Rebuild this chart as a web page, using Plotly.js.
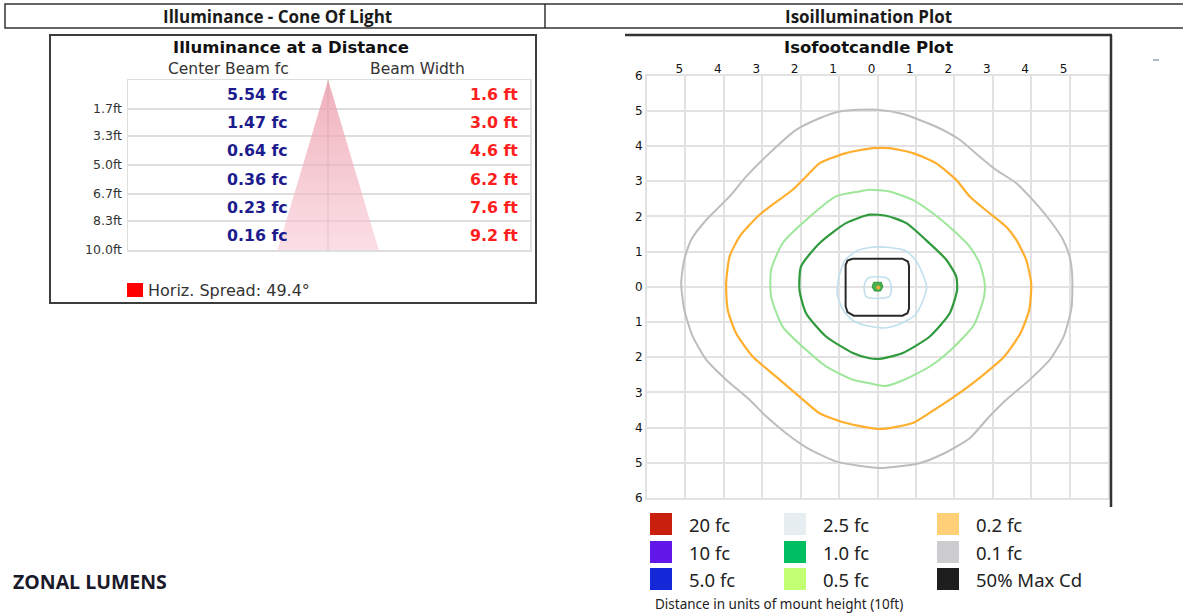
<!DOCTYPE html>
<html>
<head>
<meta charset="utf-8">
<script src="https://cdn.plot.ly/plotly-3.0.1.min.js"></script>
<style>html,body{margin:0;padding:0;background:#fff}#chart{width:1183px;height:613px}</style>
</head>
<body>
<div id="chart"></div>
<script>
// ---------------- DATA ----------------
// Illuminance at a distance table
const distanceLabels = ['1.7ft', '3.3ft', '5.0ft', '6.7ft', '8.3ft', '10.0ft'];
const distances = [1.7, 3.3, 5.0, 6.7, 8.3, 10.0];
const centerBeamFc = [5.54, 1.47, 0.64, 0.36, 0.23, 0.16];
const beamWidthFt = [1.6, 3.0, 4.6, 6.2, 7.6, 9.2];
const horizSpreadDeg = 49.4;

// Isofootcandle contours (units of mount height)
const gray01X = [-0.47, 0, 0.66, 1.53, 2.14, 2.66, 3.09, 3.61, 4.04, 4.48, 4.83, 5.0, 5.07, 5.05, 4.85, 4.5, 3.95, 3.35, 2.9, 2.4, 1.7, 1.09, 0.05, -1.08, -1.8, -2.38, -2.9, -3.33, -3.94, -4.46, -4.81, -5.03, -5.11, -5.03, -4.85, -4.46, -3.85, -3.42, -2.81, -2.12, -1.51, -0.99, -0.47];
const gray01Y = [5.03, 5.03, 4.91, 4.55, 4.18, 3.7, 3.32, 2.95, 2.47, 1.9, 1.34, 0.86, 0.29, -0.6, -1.4, -2.05, -2.65, -3.21, -3.7, -4.3, -4.75, -5.01, -5.15, -4.96, -4.6, -4.16, -3.68, -3.21, -2.64, -2.07, -1.41, -0.65, 0.1, 0.77, 1.34, 1.9, 2.57, 3.13, 3.8, 4.46, 4.79, 4.98, 5.03];
const orange02X = [-0.12, 0.31, 0.92, 1.53, 2.05, 2.4, 2.92, 3.35, 3.61, 3.87, 4.0, 3.95, 3.72, 3.3, 2.7, 1.96, 1.4, 0.92, 0.05, -0.82, -1.51, -2.03, -2.64, -3.25, -3.68, -3.9, -3.94, -3.85, -3.59, -3.07, -2.21, -1.8, -1.51, -0.82, -0.12];
const orange02Y = [3.94, 3.94, 3.8, 3.51, 3.04, 2.57, 2.09, 1.71, 1.34, 0.77, 0.1, -0.65, -1.32, -1.98, -2.55, -3.15, -3.55, -3.87, -4.04, -3.87, -3.59, -3.12, -2.55, -1.98, -1.32, -0.65, 0.1, 0.86, 1.43, 2.05, 2.76, 3.2, 3.51, 3.8, 3.94];
const green05X = [-0.2, 0.31, 0.92, 1.44, 1.96, 2.4, 2.66, 2.79, 2.77, 2.5, 1.9, 1.35, 0.65, 0.2, -0.21, -0.64, -1.34, -1.86, -2.47, -2.77, -2.77, -2.47, -1.86, -1.08, -0.47, -0.2];
const green05Y = [2.76, 2.71, 2.47, 2.09, 1.62, 1.14, 0.67, 0.1, -0.3, -1.1, -1.8, -2.27, -2.66, -2.82, -2.74, -2.64, -2.26, -1.79, -1.13, -0.27, 0.48, 1.24, 1.9, 2.57, 2.71, 2.76];
const green10X = [-0.21, 0.23, 0.75, 1.35, 1.79, 2.05, 2.07, 1.88, 1.36, 0.66, 0.1, -0.21, -0.64, -1.34, -1.86, -2.03, -1.99, -1.51, -0.82, -0.21];
const green10Y = [2.05, 2.02, 1.81, 1.24, 0.77, 0.29, -0.1, -0.75, -1.41, -1.88, -2.04, -2.03, -1.88, -1.41, -0.75, -0.09, 0.58, 1.24, 1.81, 2.05];
const blue25X = [-0.2, 0.3, 0.75, 1.0, 1.18, 1.28, 1.18, 0.98, 0.6, 0.2, -0.3, -0.65, -0.9, -1.05, -1.0, -0.85, -0.55, -0.2];
const blue25Y = [1.12, 1.12, 1.02, 0.75, 0.35, 0.0, -0.4, -0.8, -1.05, -1.17, -1.1, -0.95, -0.65, -0.2, 0.3, 0.75, 1.02, 1.12];
const blueInnerX = [-0.2, 0.2, 0.33, 0.36, 0.3, 0.0, -0.3, -0.35, -0.3, -0.2];
const blueInnerY = [0.27, 0.27, 0.15, -0.1, -0.28, -0.33, -0.28, 0.0, 0.18, 0.27];
const maxCd50X = [-0.65, 0.65, 0.79, 0.82, 0.82, 0.78, 0.65, -0.62, -0.78, -0.83, -0.83, -0.78, -0.65];
const maxCd50Y = [0.8, 0.8, 0.72, 0.6, -0.62, -0.75, -0.82, -0.82, -0.72, -0.55, 0.62, 0.75, 0.8];
const centerX = [-0.1, 0.1, 0.14, 0.08, -0.08, -0.14, -0.1];
const centerY = [0.13, 0.13, 0.0, -0.12, -0.12, 0.0, 0.13];

// iso legend (column-major as in picture)
const legendLabels = ['20 fc', '10 fc', '5.0 fc', '2.5 fc', '1.0 fc', '0.5 fc', '0.2 fc', '0.1 fc', '50% Max Cd'];
const legendColors = ['#c8200c', '#6216e8', '#1428d8', '#e6eef2', '#00bf63', '#c2ff72', '#ffd078', '#cdcdcf', '#1e1e1e'];

const xTickVals = [-5, -4, -3, -2, -1, 0, 1, 2, 3, 4, 5];
const yTickVals = [-6, -5, -4, -3, -2, -1, 0, 1, 2, 3, 4, 5, 6];

// ---------------- LAYOUT HELPERS ----------------
const W = 1183, H = 613;
const px = x => x / W;
const py = y => 1 - y / H;

const traces = [];
// Cone of light triangle (beam width at 10 ft)
const lastW = beamWidthFt[beamWidthFt.length - 1];
const lastD = distances[distances.length - 1];
traces.push({
  x: [0, -lastW / 2, lastW / 2, 0], y: [0, lastD, lastD, 0],
  xaxis: 'x', yaxis: 'y', type: 'scatter', mode: 'lines', fill: 'toself',
  line: {width: 0, color: 'rgba(0,0,0,0)'},
  fillgradient: {type: 'vertical', start: 0, stop: lastD,
    colorscale: [[0, 'rgba(234,150,165,0.75)'], [1, 'rgba(248,200,210,0.6)']]},
  hoverinfo: 'skip', showlegend: false
});

function contour(xs, ys, color, width) {
  traces.push({x: xs, y: ys, xaxis: 'x2', yaxis: 'y2', type: 'scatter', mode: 'lines',
    line: {color: color, width: width, shape: 'spline', smoothing: 0.6},
    hoverinfo: 'skip', showlegend: false});
}
contour(gray01X, gray01Y, '#bdbdbd', 2);
contour(orange02X, orange02Y, '#ffae2e', 2.2);
contour(green05X, green05Y, '#9ee69a', 2);
contour(green10X, green10Y, '#2f9a3c', 2.2);
contour(blue25X, blue25Y, '#bfe0ec', 1.6);
contour(blueInnerX, blueInnerY, '#bfe0ec', 1.6);
traces.push({x: maxCd50X, y: maxCd50Y, xaxis: 'x2', yaxis: 'y2', type: 'scatter', mode: 'lines',
  line: {color: '#2a2a2a', width: 2}, hoverinfo: 'skip', showlegend: false});
traces.push({x: centerX, y: centerY, xaxis: 'x2', yaxis: 'y2', type: 'scatter', mode: 'lines',
  fill: 'toself', fillcolor: '#4cb050', line: {color: '#2f9a3c', width: 1}, hoverinfo: 'skip', showlegend: false});
traces.push({x: [0.02], y: [-0.02], xaxis: 'x2', yaxis: 'y2', type: 'scatter', mode: 'markers',
  marker: {color: '#f2a83a', size: 4}, hoverinfo: 'skip', showlegend: false});

// ---------------- SHAPES & ANNOTATIONS ----------------
const shapes = [];
const annotations = [];
const P = {xref: 'paper', yref: 'paper'};

// header bar
shapes.push({type: 'rect', ...P, x0: px(5), x1: px(1190), y0: py(28), y1: py(4), line: {color: '#333', width: 1.5}});
shapes.push({type: 'line', ...P, x0: px(545), x1: px(545), y0: py(28), y1: py(4), line: {color: '#333', width: 1.5}});
const hdrFont = {family: 'Open Sans, sans-serif', size: 17, color: '#1a1a1a'};
annotations.push({...P, x: px(277), y: py(16), text: '<b>Illuminance - Cone Of Light</b>', showarrow: false, font: hdrFont, xanchor: 'center', yanchor: 'middle'});
annotations.push({...P, x: px(868), y: py(16), text: '<b>Isoillumination Plot</b>', showarrow: false, font: hdrFont, xanchor: 'center', yanchor: 'middle'});

// left panel box
shapes.push({type: 'rect', ...P, x0: px(50), x1: px(536), y0: py(303), y1: py(35), line: {color: '#3c3c3c', width: 2}});
annotations.push({...P, x: px(291), y: py(47), text: '<b>Illuminance at a Distance</b>', showarrow: false,
  font: {family: 'DejaVu Sans', size: 16.5, color: '#111'}, xanchor: 'center', yanchor: 'middle'});
annotations.push({...P, x: px(228), y: py(69), text: 'Center Beam fc', showarrow: false,
  font: {family: 'DejaVu Sans', size: 15.5, color: '#333'}, xanchor: 'center', yanchor: 'middle'});
annotations.push({...P, x: px(417), y: py(69), text: 'Beam Width', showarrow: false,
  font: {family: 'DejaVu Sans', size: 15.5, color: '#333'}, xanchor: 'center', yanchor: 'middle'});

// table values
for (let i = 0; i < distances.length; i++) {
  const prev = i === 0 ? 0 : distances[i - 1];
  const mid = (prev + distances[i]) / 2;
  annotations.push({xref: 'x', yref: 'y', x: -3.45, y: mid, text: '<b>' + centerBeamFc[i].toFixed(2) + ' fc</b>',
    showarrow: false, xanchor: 'right', yanchor: 'middle', font: {family: 'DejaVu Sans', size: 15.8, color: '#1c1c8e'}});
  annotations.push({xref: 'x', yref: 'y', x: 17.45, y: mid, text: '<b>' + beamWidthFt[i].toFixed(1) + ' ft</b>',
    showarrow: false, xanchor: 'right', yanchor: 'middle', font: {family: 'DejaVu Sans', size: 15.8, color: '#ff1e1e'}});
}
// horiz spread legend
shapes.push({type: 'rect', ...P, x0: px(127), x1: px(143), y0: py(297), y1: py(283), fillcolor: '#ff0000', line: {width: 0}});
annotations.push({...P, x: px(146), y: py(290), text: 'Horiz. Spread: ' + horizSpreadDeg.toFixed(1) + '°', showarrow: false,
  xanchor: 'left', yanchor: 'middle', font: {family: 'DejaVu Sans', size: 16, color: '#333'}});

// iso frame
shapes.push({type: 'line', ...P, x0: px(625), x1: px(1112), y0: py(35), y1: py(35), line: {color: '#333', width: 2.5}});
shapes.push({type: 'line', ...P, x0: px(1111), x1: px(1111), y0: py(35), y1: py(507), line: {color: '#333', width: 2.5}});
annotations.push({...P, x: px(868), y: py(47), text: '<b>Isofootcandle Plot</b>', showarrow: false,
  font: {family: 'DejaVu Sans', size: 16.5, color: '#111'}, xanchor: 'center', yanchor: 'middle'});
// small dash at right
shapes.push({type: 'line', ...P, x0: px(1153), x1: px(1159), y0: py(60), y1: py(60), line: {color: '#9aa3b5', width: 1.5}});

// iso legend
const colX = [650, 784, 937];
const rowY = [513, 541, 568];
legendLabels.forEach((lab, i) => {
  const c = Math.floor(i / 3), r = i % 3;
  shapes.push({type: 'rect', ...P, x0: px(colX[c]), x1: px(colX[c] + 22), y0: py(rowY[r] + 22), y1: py(rowY[r]),
    fillcolor: legendColors[i], line: {width: 0}});
  annotations.push({...P, x: px(colX[c] + 37), y: py(rowY[r] + 11), text: lab, showarrow: false, xanchor: 'left', yanchor: 'middle',
    font: {family: 'Noto Sans', size: 18.5, color: '#222'}});
});
annotations.push({...P, x: px(653), y: py(604), text: 'Distance in units of mount height (10ft)', showarrow: false,
  xanchor: 'left', yanchor: 'middle', font: {family: 'Noto Sans', size: 13.5, color: '#222'}});
annotations.push({...P, x: px(11), y: py(581), text: '<b>ZONAL LUMENS</b>', showarrow: false,
  xanchor: 'left', yanchor: 'middle', font: {family: 'Open Sans', size: 19.5, color: '#1a1a2a'}});

const gridC = '#dedede';
const layout = {
  width: W, height: H, margin: {l: 0, r: 0, t: 0, b: 0}, paper_bgcolor: '#fff', plot_bgcolor: 'rgba(0,0,0,0)',
  showlegend: false,
  xaxis: {domain: [px(128), px(530)], range: [-18.2, 18.35], showgrid: false, zeroline: true, zerolinecolor: gridC, zerolinewidth: 1.5,
    showline: true, mirror: true, linecolor: gridC, linewidth: 1.5, showticklabels: false, fixedrange: true},
  yaxis: {domain: [py(250), py(80)], range: [10, 0], anchor: 'x', tickvals: [0].concat(distances), ticktext: [''].concat(distanceLabels),
    showgrid: true, gridcolor: gridC, gridwidth: 1.5, zeroline: false, showline: true, mirror: true, linecolor: gridC, linewidth: 1.5,
    ticks: '', ticklabelstandoff: 2, tickfont: {family: 'DejaVu Sans', size: 12.5, color: '#333'}, fixedrange: true},
  xaxis2: {domain: [px(647), px(1108)], range: [-6, 6], anchor: 'y2', side: 'top', tickvals: xTickVals, ticktext: xTickVals.map(v => String(Math.abs(v))),
    showgrid: true, gridcolor: '#e2e2e2', gridwidth: 2, zeroline: false, showline: true, mirror: true, linecolor: '#e2e2e2', linewidth: 2,
    ticks: '', ticklabelshift: -6, ticklabelstandoff: -4, tickfont: {family: 'DejaVu Sans', size: 12, color: '#111'}, fixedrange: true},
  yaxis2: {domain: [py(498), py(75.7)], range: [-6, 6], anchor: 'x2', tickvals: yTickVals, ticktext: yTickVals.map(v => String(Math.abs(v))),
    showgrid: true, gridcolor: '#e2e2e2', gridwidth: 2, zeroline: false, showline: true, mirror: true, linecolor: '#e2e2e2', linewidth: 2,
    ticks: '', ticklabelstandoff: 0, tickfont: {family: 'DejaVu Sans', size: 12, color: '#111'}, fixedrange: true},
  shapes: shapes, annotations: annotations
};

Plotly.newPlot('chart', traces, layout, {displayModeBar: false, staticPlot: true});
</script>
</body>
</html>
